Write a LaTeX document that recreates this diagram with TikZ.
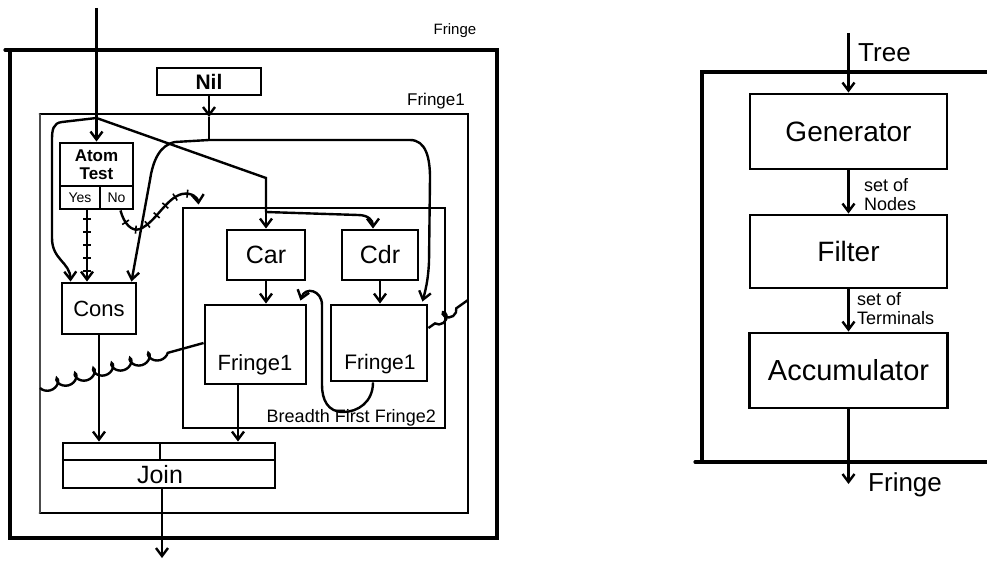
\documentclass[tikz,border=0pt]{standalone}
\usepackage{fontspec}
\setmainfont{Liberation Sans}
\usetikzlibrary{arrows.meta,decorations.pathmorphing,decorations.markings,calc}
\newcommand{\fs}[1]{\fontsize{#1}{#1}\selectfont}
\begin{document}
\begin{tikzpicture}[x=1pt,y=-1pt,
  >={Straight Barb[length=8pt,width=12pt]},
  frame/.style={line width=3.2pt, line cap=round},
  box/.style={draw, line width=2.9pt, inner sep=0pt, anchor=center},
  wire/.style={line width=2.4pt},
  arr/.style={wire,->},
  lbl/.style={inner sep=0pt},
  coilwire/.style={line width=2.4pt, decorate, decoration={coil, mirror, aspect=0.9, amplitude=5pt, segment length=19pt, post length=30pt}},
  ticked/.style={postaction={decorate, decoration={markings, mark=between positions 0.12 and 0.88 step 13pt with {\draw[line width=1.6pt, arrows=-] (0,-4pt)--(0,4pt);}}}}
]
\useasboundingbox (0,0) rectangle (987,564);

% ---------------- left diagram: frames
\draw[frame] (10,50) rectangle (497,538);
\draw[frame] (5,50) -- (10,50);
\node[lbl, font=\fs{15}] (fringelbl) at (455,31) {Fringe};
\draw[frame, line width=2.8pt] (40,114) -- (468,114) -- (468,513) -- (40,513);
\draw[line width=1.6pt, black!70] (40,114) -- (40,513);
\node[lbl, font=\fs{17}] (fringe1lbl) at (436,101) {Fringe1};

% ---------------- left diagram: boxes
\node[box, minimum width=104pt, minimum height=27pt, font=\bfseries\fs{21}] (nil) at (209,81.5) {Nil};
\node[box, align=center, minimum width=73pt, minimum height=43pt, font=\bfseries\fontsize{17}{18}\selectfont] (atom) at (96.5,164.5) {Atom\\Test};
\node[box, minimum width=40pt, minimum height=23pt, font=\fs{14}] (yes) at (80,197.5) {Yes};
\node[box, minimum width=33pt, minimum height=23pt, font=\fs{14}] (no) at (116.5,197.5) {No};
\node[box, minimum width=74pt, minimum height=51pt, font=\fs{22}] (cons) at (99,308.5) {Cons};
\node[box, minimum width=262pt, minimum height=220pt] (bff) at (314,318) {};
\node[lbl, anchor=south east, font=\fs{18}] (bfflbl) at (436,426) {Breadth First Fringe2};
\node[box, minimum width=78pt, minimum height=50pt, font=\fs{25}] (car) at (266,255) {Car};
\node[box, minimum width=76pt, minimum height=50pt, font=\fs{25}] (cdr) at (380,255) {Cdr};
\node[box, minimum width=101pt, minimum height=79pt] (fl) at (255.5,344.5) {};
\node[lbl, font=\fs{22}] (fltxt) at (255,365) {Fringe1};
\node[box, minimum width=96pt, minimum height=76pt] (fr) at (379,343) {};
\node[lbl, font=\fs{21}] (frtxt) at (380,364) {Fringe1};
\node[box, minimum width=212pt, minimum height=45pt] (join) at (169,465.5) {};
\coordinate (jd) at (0,460);
\coordinate (jt) at (160,460);
\draw[line width=2.4pt] (join.west |- jd) -- (join.east |- jd);
\draw[line width=2.4pt] (jt) -- (jt |- join.north);
\node[lbl, font=\fs{25}] (jointxt) at (160,474.5) {Join};

% ---------------- left diagram: connectors
\coordinate (in) at (96.5,8);
\coordinate (j1) at (96.5,118);
\draw[wire] (in) -- (j1);
\draw[arr] (j1) -- (atom.north);
\coordinate (consA) at ($(cons.north west)+(10,0)$);
\draw[arr] (j1) -- (62,122) .. controls (53,123) and (52,130) .. (52,140) -- (52,238) .. controls (52,260) and (70,262) .. (consA);

\coordinate (d1) at (266,178);
\coordinate (j2) at (266,212);
\draw[wire] (j1) -- (d1) -- (j2);
\draw[arr] (j2) -- (car.north);
\coordinate (cdrA) at ($(cdr.north)+(-7,0)$);
\draw[arr] (j2) -- (358,215) .. controls (368,215) and (373,220) .. (cdrA);

\coordinate (j3) at (209,140);
\coordinate (nilA) at (209,117);
\draw[arr] (nil.south) -- (nilA);
\draw[wire] (nilA) -- (j3);
\coordinate (consB) at ($(cons.north east)+(-6,0)$);
\draw[arr] (j3) -- (175,142) .. controls (160,145) and (153,160) .. (150,180) -- (consB);
\coordinate (frA) at ($(fr.north east)+(-6,-2)$);
\draw[arr] (j3) -- (410,140) .. controls (426,140) and (430,158) .. (430,178) -- (429,262) .. controls (428,282) and (425,292) .. (frA);

\draw[arr, ticked] ($(yes.south)+(7,0)$) -- ($(cons.north)+(-12,0)$);
\coordinate (noA) at ($(no.south)+(4,0)$);
\coordinate (bffA) at ($(bff.north west)+(17,-2)$);
\draw[arr, ticked] (noA) .. controls (124,224) and (132,232) .. (140,229) .. controls (156,222) and (166,198) .. (182,194) .. controls (192,192) and (198,198) .. (bffA);

\draw[arr] (cons.south) -- (cons.south |- join.north);
\draw[arr] (car.south) -- (car.south |- fl.north);
\draw[arr] (cdr.south) -- (cdr.south |- fr.north);
\coordinate (flB) at ($(fl.south)+(-17.5,0)$);
\draw[arr] (flB) -- (flB |- join.north);
\coordinate (jB) at ($(join.south)+(-7,0)$);
\coordinate (out) at (162,558);
\draw[arr] (jB) -- (out);

\coordinate (frB) at ($(fr.south)+(-6,0)$);
\coordinate (flA) at ($(fl.north east)+(-7,-3)$);
\draw[arr] (frB) .. controls (373,402) and (358,412) .. (343,412) .. controls (328,412) and (322,400) .. (322,385) -- (322,305) .. controls (322,290) and (305,286) .. (flA);

\coordinate (c1) at (40,388);
\coordinate (flW) at ($(fl.west)+(0,-1.5)$);
\draw[coilwire] (c1) -- (flW);
\coordinate (frE) at ($(fr.east)+(0,-15)$);
\coordinate (c2) at (468,300);
\draw[wire, decorate, decoration={coil, mirror, aspect=0.9, amplitude=4.5pt, segment length=12pt, pre length=8pt, post length=8pt}] (frE) -- (c2);

% ---------------- right diagram
\draw[frame] (987,72) -- (702,72) -- (702,462);
\draw[frame] (695,462) -- (987,462);
\node[box, minimum width=197pt, minimum height=75pt, font=\fs{28}] (gen) at (848.5,131.5) {Generator};
\node[box, minimum width=197pt, minimum height=73pt, font=\fs{28}] (filt) at (848.5,251.5) {Filter};
\node[box, minimum width=198pt, minimum height=75pt, font=\fs{29}] (acc) at (848.5,370.5) {Accumulator};
\coordinate (treein) at (848.5,33);
\draw[arr] (treein) -- (gen.north);
\node[lbl, anchor=west, font=\fs{26}] (treelbl) at (858,53) {Tree};
\draw[arr] (gen.south) -- (filt.north);
\node[lbl, anchor=west, align=left, font=\fontsize{18}{19}\selectfont] (nodeslbl) at (864,195) {set of\\Nodes};
\draw[arr] (filt.south) -- (acc.north);
\node[lbl, anchor=west, align=left, font=\fontsize{18}{19}\selectfont] (termlbl) at (857,309) {set of\\Terminals};
\coordinate (fo) at (848.5,484);
\draw[arr] (acc.south) -- (fo);
\node[lbl, anchor=west, font=\fs{26}] (fringeout) at (868,485) {Fringe};
\end{tikzpicture}
\end{document}
